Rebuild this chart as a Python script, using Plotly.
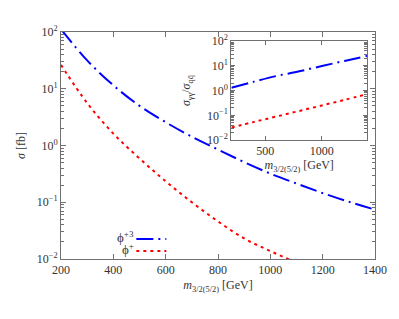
import plotly.graph_objects as go

# ---- data ----
mass = [200, 300, 400, 500, 600, 700, 800, 900, 1000, 1100, 1200, 1300, 1400]
sigma_phi3 = [112, 31.6, 11.5, 5.0, 2.57, 1.43, 0.85, 0.51, 0.32, 0.214, 0.145, 0.102, 0.074]
sigma_phi1 = [26.3, 5.6, 1.62, 0.59, 0.234, 0.10, 0.046, 0.023, 0.0138, 0.0086, 0.0053, 0.0034, 0.0022]

mass_inset = [200, 400, 600, 800, 1000, 1200, 1400]
ratio_phi3 = [1.29, 2.3, 3.9, 6.0, 9.8, 15.8, 25.1]
ratio_phi1 = [0.032, 0.054, 0.090, 0.150, 0.25, 0.42, 0.72]

log_tickvals = [0.01, 0.1, 1, 10, 100]
log_ticktext = ["10<sup>\u22122</sup>", "10<sup>\u22121</sup>", "10<sup>0</sup>", "10<sup>1</sup>", "10<sup>2</sup>"]
minor_vals = [m * d for d in [0.01, 0.1, 1, 10] for m in range(2, 10)]

names = ["\u03d5<sup>+3</sup>", "\u03d5<sup>+</sup>"]
colors = ["#0000ff", "#ff0000"]
dashes = ["17px,5px,2px,5px", "3px,4px"]

FONT = "Liberation Serif, Times New Roman, serif"
AX = "#707070"
TXT = "#333333"

fig = go.Figure()
for y, c, d, lg in zip([sigma_phi3, sigma_phi1], colors, dashes, ["legend", "legend2"]):
    fig.add_trace(go.Scatter(x=mass, y=y, mode="lines", line=dict(color=c, width=2, dash=d, shape="spline"),
                             name=" ", showlegend=True, legend=lg, xaxis="x", yaxis="y"))
for y, c, d in zip([ratio_phi3, ratio_phi1], colors, dashes):
    fig.add_trace(go.Scatter(x=mass_inset, y=y, mode="lines", line=dict(color=c, width=2, dash=d, shape="spline"),
                             showlegend=False, xaxis="x2", yaxis="y2"))

common = dict(showline=True, linecolor=AX, linewidth=1, mirror="allticks", ticks="inside",
              tickcolor=AX, showgrid=False, zeroline=False, ticklabeloverflow="allow",
              tickfont=dict(family=FONT, size=12, color=TXT))
minor_log = dict(ticks="inside", ticklen=3, tickcolor=AX, showgrid=False, tickvals=minor_vals)
leg = dict(xanchor="left", yanchor="middle", bgcolor="rgba(0,0,0,0)", itemwidth=30,
           font=dict(size=10), borderwidth=0)

fig.update_layout(
    width=391, height=311,
    margin=dict(l=52, r=22, t=24, b=60),
    paper_bgcolor="white", plot_bgcolor="white",
    font=dict(family=FONT, size=12, color=TXT),
    xaxis=dict(range=[200, 1400], tick0=200, dtick=200, ticklen=5, domain=[0, 1],
               title=dict(text="<i>m</i><sub>3/2(5/2)</sub> [GeV]", font=dict(size=12), standoff=4),
               **common),
    yaxis=dict(type="log", range=[-2, 2], tickvals=log_tickvals, ticktext=log_ticktext, ticklen=5,
               minor=minor_log, title=dict(text="<i>\u03c3</i> [fb]", font=dict(size=12), standoff=8),
               **common),
    xaxis2=dict(range=[200, 1400], tick0=0, dtick=500, ticklen=4, domain=[0.5426, 0.9748], anchor="y2",
                title=dict(text="<i>m</i><sub>3/2(5/2)</sub> [GeV]", font=dict(size=12), standoff=0),
                **common),
    yaxis2=dict(type="log", range=[-2, 2], tickvals=log_tickvals, ticktext=log_ticktext, ticklen=4,
                domain=[0.524, 0.960], anchor="x2", minor=minor_log,
                title=dict(text="<i>\u03c3</i><sub>\u03b3\u03b3</sub>/<i>\u03c3</i><sub>qq\u0304</sub>",
                           font=dict(size=12), standoff=13),
                **common),
    legend=dict(x=0.224, y=0.088, **leg),
    legend2=dict(x=0.224, y=0.035, **leg),
    showlegend=True,
)
for i, n in enumerate(names):
    fig.add_annotation(text=n, xref="paper", yref="paper", x=0.24, y=0.095 - 0.053 * i,
                       xanchor="right", yanchor="middle", showarrow=False,
                       font=dict(family=FONT, size=13, color=TXT))

fig.write_html("out.html", config={"displayModeBar": False})
